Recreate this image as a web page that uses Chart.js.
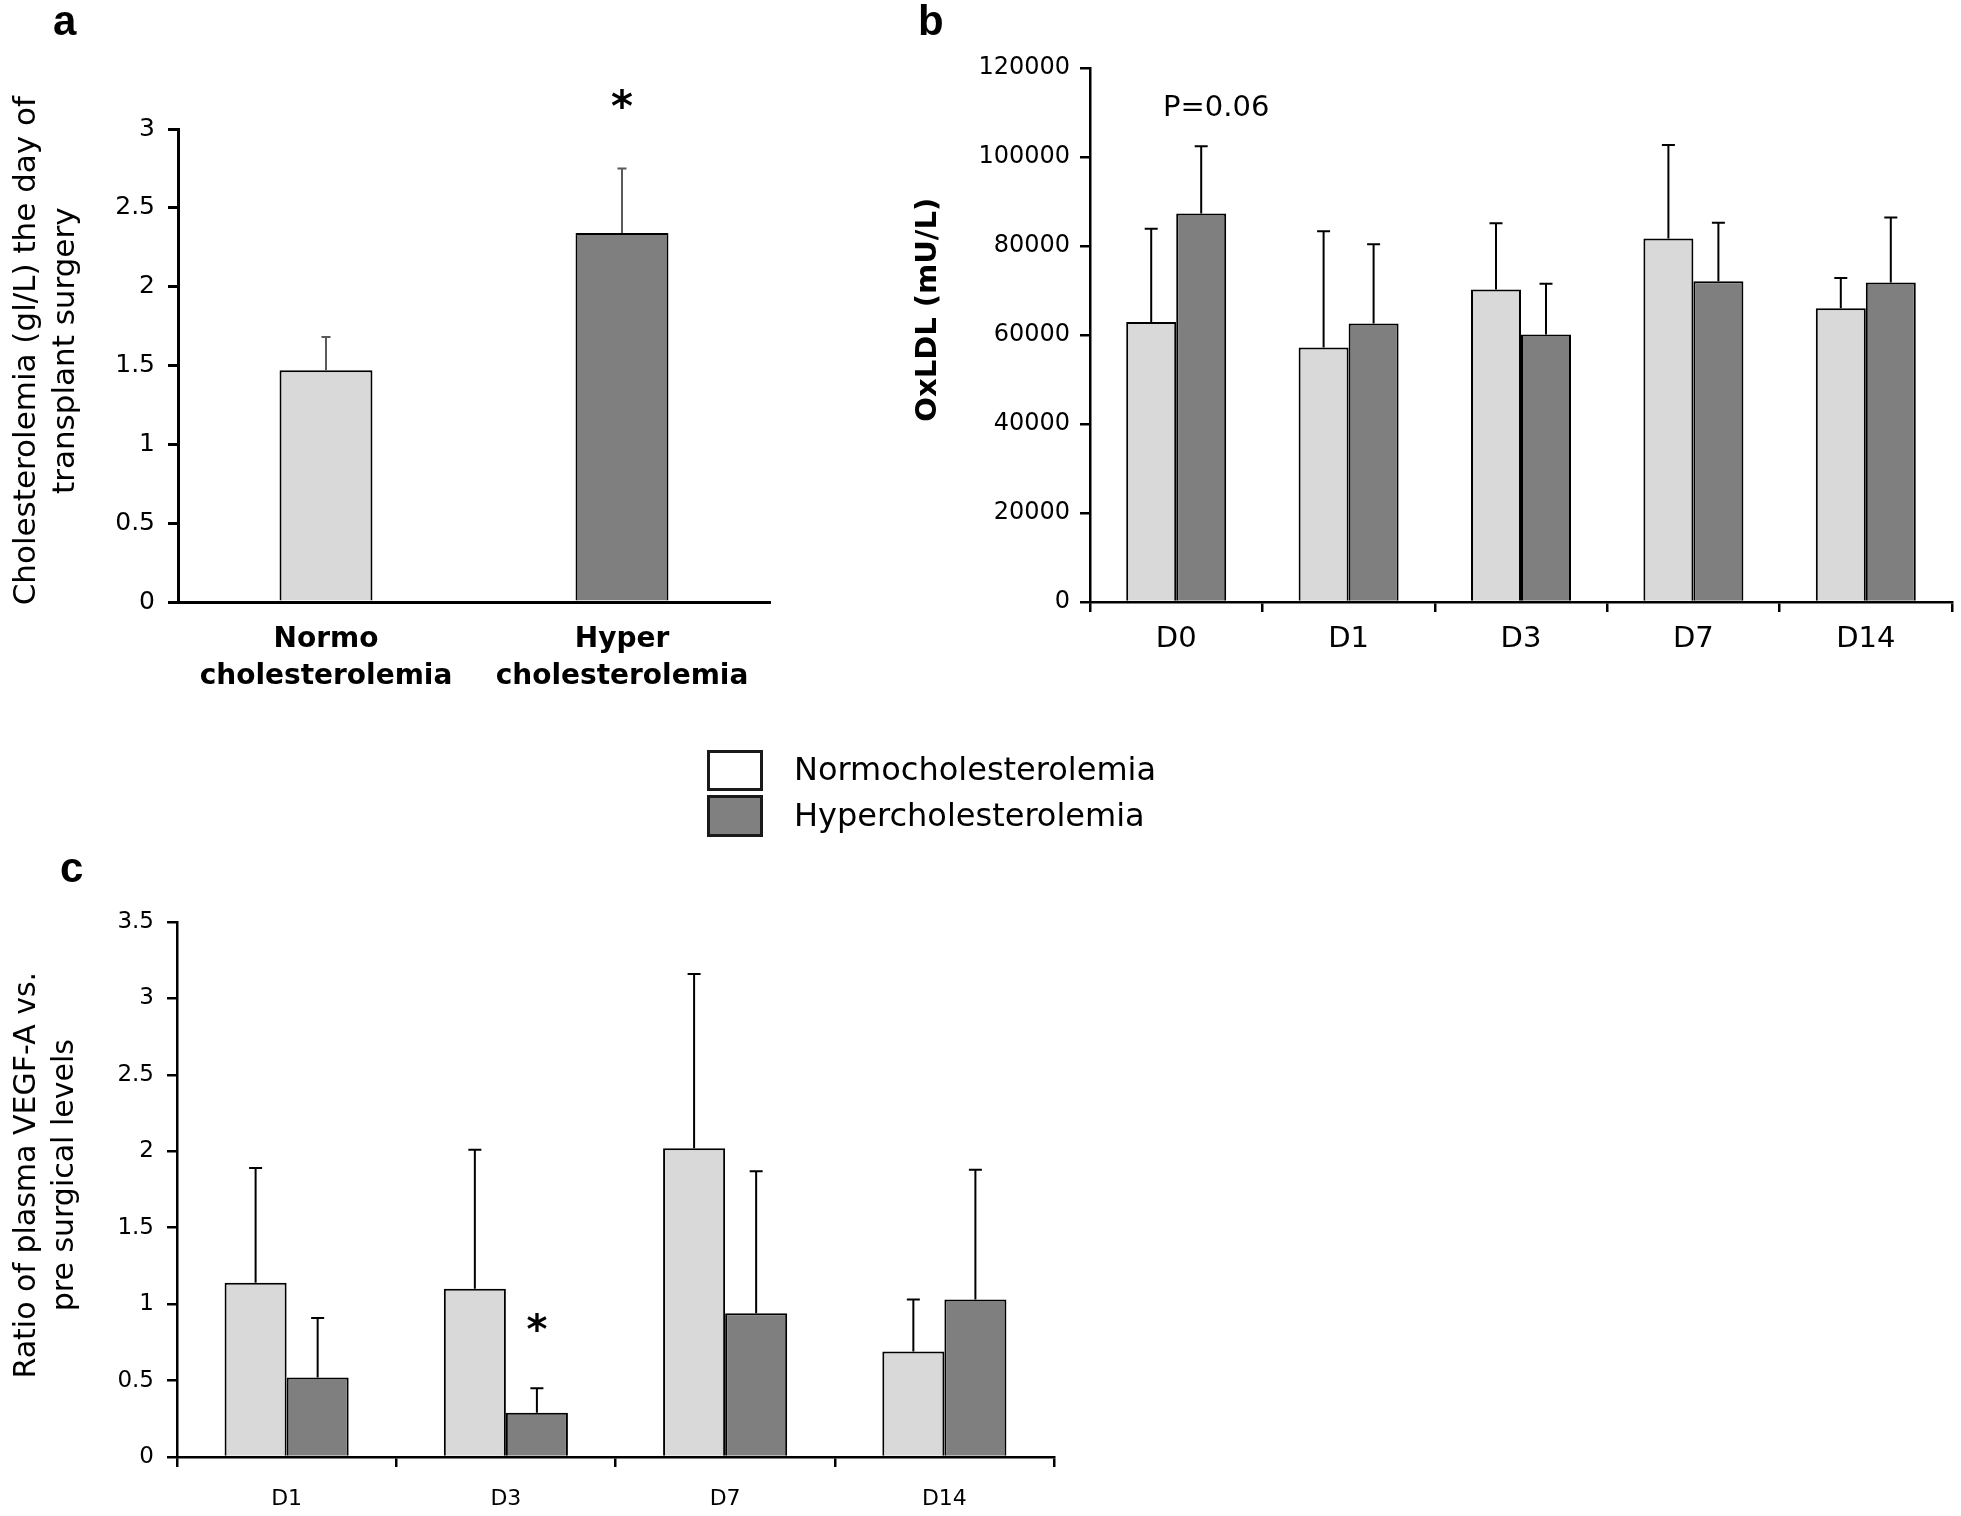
<!DOCTYPE html>
<html>
<head>
<meta charset="utf-8">
<script src="https://cdn.jsdelivr.net/npm/chart.js@4.4.1/dist/chart.umd.min.js"></script>
<style>
  body { margin: 0; background: #fff; width: 1961px; height: 1516px; position: relative; overflow: hidden; }
  canvas { position: absolute; }
  .tag { position: absolute; font: bold 42px "Liberation Sans", Arial, sans-serif; line-height: 42px; color: #000; }
  .key { position: absolute; left: 707px; width: 50px; border: 3px solid #1a1a1a; }
  .keytxt { position: absolute; left: 794px; font: 32px "DejaVu Sans", sans-serif; line-height: 40px; color: #000; white-space: nowrap; }
</style>
</head>
<body>
<canvas id="chartA" width="800" height="720" style="left:0;top:0"></canvas>
<canvas id="chartB" width="1081" height="720" style="left:880px;top:0"></canvas>
<canvas id="chartC" width="1100" height="796" style="left:0;top:720px"></canvas>

<div class="tag" style="left:53px;top:0">a</div>
<div class="tag" style="left:918px;top:0">b</div>
<div class="tag" style="left:60px;top:847px">c</div>

<div class="key" style="top:750px;height:35px;background:#fff"></div>
<div class="key" style="top:795px;height:36px;background:#808080"></div>
<div class="keytxt" style="top:749px">Normocholesterolemia</div>
<div class="keytxt" style="top:795px">Hypercholesterolemia</div>

<script>
// panel a - cholesterolemia on surgery day
const cholLabels = [["Normo", "cholesterolemia"], ["Hyper", "cholesterolemia"]];
const cholMean = [1.47, 2.34];
const cholSd = [0.21, 0.41];

// panel b - OxLDL
const oxDays = ["D0", "D1", "D3", "D7", "D14"];
const oxNormo = [62900, 57200, 70200, 81700, 66000];
const oxNormoSd = [21000, 26100, 14900, 21000, 6800];
const oxHyper = [87300, 62600, 60100, 72100, 71800];
const oxHyperSd = [15100, 17800, 11400, 13100, 14600];

// panel c - VEGF-A ratio
const vegfDays = ["D1", "D3", "D7", "D14"];
const vegfNormo = [1.14, 1.10, 2.02, 0.69];
const vegfNormoSd = [0.75, 0.91, 1.14, 0.34];
const vegfHyper = [0.52, 0.29, 0.94, 1.03];
const vegfHyperSd = [0.39, 0.16, 0.93, 0.85];

const LIGHT = "#d9d9d9";
const DARK = "#7f7f7f";
const FONT = "'DejaVu Sans', sans-serif";
const NB = "\u00a0";

// upper error bars, drawn from the bar top
const errorBars = {
    id: "errorBars",
    afterDatasetsDraw(chart, args, opts)
    {
        const ctx = chart.ctx;
        const y = chart.scales.y;
        chart.data.datasets.forEach((ds, i) =>
        {
            const meta = chart.getDatasetMeta(i);
            meta.data.forEach((bar, j) =>
            {
                const top = y.getPixelForValue(ds.data[j] + ds.errors[j]);
                ctx.save();
                ctx.strokeStyle = opts.color;
                ctx.lineWidth = opts.width;
                ctx.beginPath();
                ctx.moveTo(bar.x, bar.y);
                ctx.lineTo(bar.x, top);
                ctx.moveTo(bar.x - opts.cap / 2, top);
                ctx.lineTo(bar.x + opts.cap / 2, top);
                ctx.stroke();
                ctx.restore();
            });
        });
    }
};

// stars and p-values
const notes = {
    id: "notes",
    afterDatasetsDraw(chart, args, opts)
    {
        const ctx = chart.ctx;
        const y = chart.scales.y;
        (opts.items || []).forEach(n =>
        {
            const bar = chart.getDatasetMeta(n.dataset).data[n.index];
            const ds = chart.data.datasets[n.dataset];
            let py;
            if (n.value !== undefined) py = y.getPixelForValue(n.value);
            else py = y.getPixelForValue(ds.data[n.index] + ds.errors[n.index]) - n.above;
            ctx.save();
            ctx.fillStyle = "#000";
            ctx.font = n.font;
            ctx.textAlign = "center";
            ctx.textBaseline = "middle";
            ctx.fillText(n.text, bar.x + (n.dx || 0), py);
            ctx.restore();
        });
    }
};

function yAxis(max, step, width, tickSize, tickPad, borderW, title)
{
    return {
        min: 0, max: max,
        afterFit: s => { s.width = width; },
        border: { color: "#000", width: borderW },
        grid: { drawOnChartArea: false, drawTicks: true, tickLength: 10, color: "#000", lineWidth: borderW },
        ticks: { stepSize: step, color: "#000", padding: tickPad, font: { family: FONT, size: tickSize },
                 callback: v => String(v) },
        title: title
    };
}

new Chart(document.getElementById("chartA"), {
    type: "bar",
    data: {
        labels: cholLabels,
        datasets: [{
            data: cholMean,
            errors: cholSd,
            backgroundColor: [LIGHT, DARK],
            borderColor: "#000",
            borderWidth: 2,
            categoryPercentage: 0.314,
            barPercentage: 1
        }]
    },
    options: {
        responsive: false,
        animation: false,
        layout: { padding: { left: 0, right: 30, top: 129, bottom: 0 } },
        plugins: {
            legend: { display: false },
            tooltip: { enabled: false },
            errorBars: { color: "#595959", width: 2, cap: 9 },
            notes: { items: [{ dataset: 0, index: 1, text: "*", above: 58, font: "bold 42px " + FONT }] }
        },
        scales: {
            x: {
                afterFit: s => { s.height = 118; },
                border: { color: "#000", width: 3 },
                grid: { display: true, drawOnChartArea: false, drawTicks: false },
                ticks: { color: "#000", padding: 19, font: { family: FONT, size: 28, weight: "bold", lineHeight: 1.32 } }
            },
            y: yAxis(3, 0.5, 178, 25, 13, 3, {
                display: true,
                text: [NB.repeat(3) + "Cholesterolemia (gl/L) the day of", NB.repeat(3) + "transplant surgery"],
                color: "#000",
                padding: { top: 8, bottom: 0 },
                font: { family: FONT, size: 31, lineHeight: 1.25 }
            })
        }
    },
    plugins: [errorBars, notes]
});

new Chart(document.getElementById("chartB"), {
    type: "bar",
    data: {
        labels: oxDays,
        datasets: [
            { label: "Normocholesterolemia", data: oxNormo, errors: oxNormoSd, backgroundColor: LIGHT,
              borderColor: "#000", borderWidth: 2, categoryPercentage: 0.58, barPercentage: 1 },
            { label: "Hypercholesterolemia", data: oxHyper, errors: oxHyperSd, backgroundColor: DARK,
              borderColor: "#000", borderWidth: 2, categoryPercentage: 0.58, barPercentage: 1 }
        ]
    },
    options: {
        responsive: false,
        animation: false,
        layout: { padding: { left: 0, right: 9, top: 68, bottom: 0 } },
        plugins: {
            legend: { display: false },
            tooltip: { enabled: false },
            errorBars: { color: "#000", width: 2, cap: 13 },
            notes: { items: [{ dataset: 1, index: 0, text: "P=0.06", value: 111000, dx: 15, font: "29px " + FONT }] }
        },
        scales: {
            x: {
                afterFit: s => { s.height = 118; },
                border: { color: "#000", width: 2.5 },
                grid: { drawOnChartArea: false, drawTicks: true, tickLength: 10, color: "#000", lineWidth: 2.5 },
                ticks: { color: "#000", padding: 10, font: { family: FONT, size: 29 } }
            },
            y: yAxis(120000, 20000, 210, 24, 10, 2.5, {
                display: true,
                text: NB.repeat(5) + "OxLDL (mU/L)",
                color: "#000",
                padding: { top: 31, bottom: 0 },
                font: { family: FONT, size: 29, weight: "bold" }
            })
        }
    },
    plugins: [errorBars, notes]
});

new Chart(document.getElementById("chartC"), {
    type: "bar",
    data: {
        labels: vegfDays,
        datasets: [
            { label: "Normocholesterolemia", data: vegfNormo, errors: vegfNormoSd, backgroundColor: LIGHT,
              borderColor: "#000", borderWidth: 2, categoryPercentage: 0.566, barPercentage: 1 },
            { label: "Hypercholesterolemia", data: vegfHyper, errors: vegfHyperSd, backgroundColor: DARK,
              borderColor: "#000", borderWidth: 2, categoryPercentage: 0.566, barPercentage: 1 }
        ]
    },
    options: {
        responsive: false,
        animation: false,
        layout: { padding: { left: 0, right: 46, top: 202, bottom: 0 } },
        plugins: {
            legend: { display: false },
            tooltip: { enabled: false },
            errorBars: { color: "#000", width: 2, cap: 13 },
            notes: { items: [{ dataset: 1, index: 1, text: "*", above: 56, font: "bold 40px " + FONT }] }
        },
        scales: {
            x: {
                afterFit: s => { s.height = 59; },
                border: { color: "#000", width: 2.5 },
                grid: { drawOnChartArea: false, drawTicks: true, tickLength: 10, color: "#000", lineWidth: 2.5 },
                ticks: { color: "#000", padding: 19, font: { family: FONT, size: 22 } }
            },
            y: yAxis(3.5, 0.5, 177, 23, 13, 2.5, {
                display: true,
                text: [NB.repeat(3) + "Ratio of plasma VEGF-A vs.", NB.repeat(3) + "pre surgical levels"],
                color: "#000",
                padding: { top: 8, bottom: 0 },
                font: { family: FONT, size: 30, lineHeight: 1.27 }
            })
        }
    },
    plugins: [errorBars, notes]
});
</script>
</body>
</html>
